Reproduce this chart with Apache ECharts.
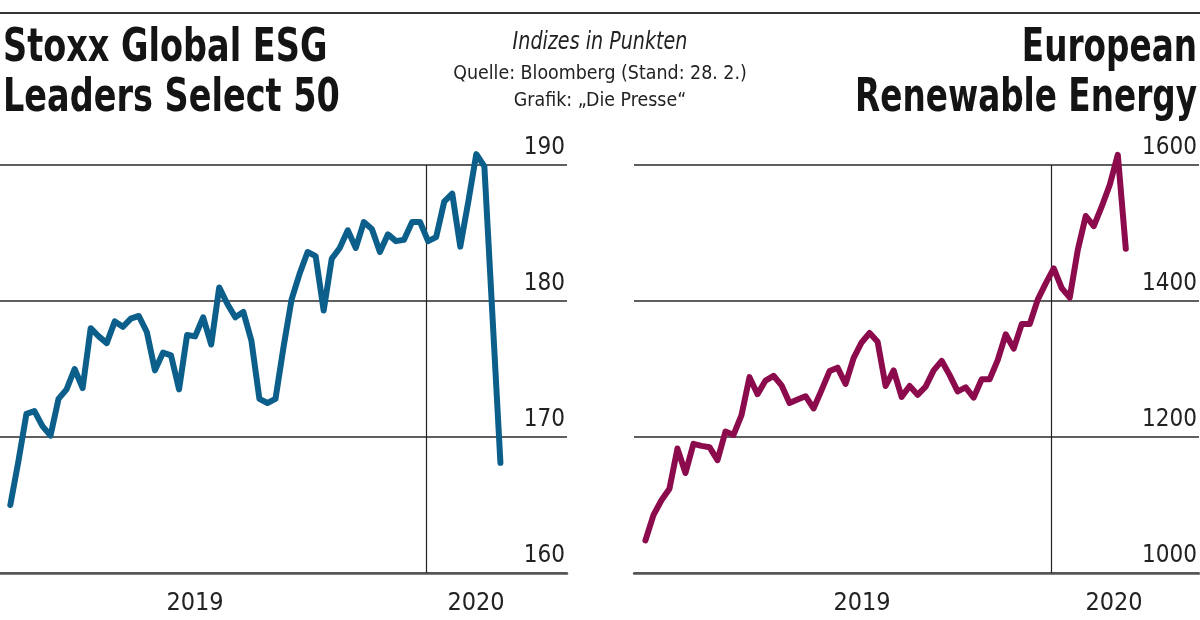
<!DOCTYPE html>
<html><head><meta charset="utf-8">
<script src="https://cdn.jsdelivr.net/npm/echarts@6/dist/echarts.min.js"></script>
<style>html,body{margin:0;padding:0;background:#fff}#c{width:1200px;height:620px}</style>
</head><body><div id="c"></div>
<script>
// Stoxx Global ESG Leaders Select 50 (weekly, index points)
const esgValues = [165.0,168.2,171.7,171.9,170.8,170.1,172.8,173.5,175.0,173.6,
  178.0,177.4,176.9,178.5,178.1,178.7,178.9,177.7,174.9,176.2,
  176.0,173.5,177.5,177.4,178.8,176.8,181.0,179.8,178.8,179.2,
  177.1,172.8,172.5,172.8,176.6,180.1,182.0,183.6,183.3,179.3,
  183.1,183.9,185.2,183.9,185.8,185.3,183.6,184.9,184.4,184.5,
  185.8,185.8,184.4,184.7,187.3,187.9,184.0,187.3,190.8,189.9,
  179.0,168.1];
// European Renewable Energy (weekly, index points)
const renewValues = [1048,1085,1107,1124,1183,1147,1190,1187,1185,1166,
  1208,1203,1232,1288,1263,1283,1290,1276,1250,1255,
  1260,1242,1269,1297,1302,1278,1316,1339,1353,1340,
  1275,1298,1259,1275,1262,1274,1298,1312,1291,1267,
  1273,1258,1285,1285,1313,1351,1330,1366,1366,1402,
  1426,1448,1419,1405,1475,1525,1510,1539,1571,1615,
  1477];
const esgStart = '2019-01-04';
const renewStart = '2019-01-11';
const esgTicks = [160, 190, 10];      // min, max, step
const renewTicks = [1000, 1600, 200]; // min, max, step
const yearLabels = ['2019', '2020'];
const yearBoundary = '2020-01-01';
const titleLeft = ['Stoxx Global ESG', 'Leaders Select 50'];
const titleRight = ['European', 'Renewable Energy'];
const subTitle = 'Indizes in Punkten';
const sourceLines = ['Quelle: Bloomberg (Stand: 28. 2.)', 'Grafik: \u201EDie Presse\u201C'];

function weeklyDates(start, n) {
  const out = [];
  const p = start.split('-').map(Number);
  for (let i = 0; i < n; i++) {
    const d = new Date(p[0], p[1] - 1, p[2] + i * 7);
    out.push(d.getTime());
  }
  return out;
}
function localTime(s) { const p = s.split('-').map(Number); return new Date(p[0], p[1]-1, p[2]).getTime(); }

const esgDates = weeklyDates(esgStart, esgValues.length);
const renewDates = weeklyDates(renewStart, renewValues.length);

const NARROW = '"Liberation Sans Narrow", "DejaVu Sans Condensed", "Roboto", sans-serif';
const INK = '#141414';

function yAxis(idx, t) {
  return {
    type: 'value', gridIndex: idx, position: 'right',
    min: t[0], max: t[1], interval: t[2],
    axisLine: { show: false }, axisTick: { show: false },
    splitLine: { lineStyle: { color: '#2a2a2a', width: 1.5 } },
    axisLabel: { inside: true, margin: 2, verticalAlign: 'bottom', padding: [0, 0, 5, 0],
      fontFamily: NARROW, fontSize: 24, color: '#222', showMinLabel: true, showMaxLabel: true,
      formatter: function (v) { return String(v); } }
  };
}
function xAxis(idx, min, max) {
  return {
    type: 'time', gridIndex: idx, min: localTime(min), max: localTime(max),
    axisLine: { show: true, lineStyle: { color: '#555', width: 2.5 } },
    axisTick: { show: false }, axisLabel: { show: false }, splitLine: { show: false }
  };
}
function lineSeries(idx, dates, vals, color) {
  return {
    type: 'line', xAxisIndex: idx, yAxisIndex: idx, clip: false,
    data: dates.map((d, i) => [d, vals[i]]),
    symbol: 'none', showSymbol: false, z: 3,
    lineStyle: { color: color, width: 6, cap: 'round', join: 'round' },
    markLine: { silent: true, symbol: 'none', z: 1, label: { show: false },
      lineStyle: { color: '#222', width: 1.2, type: 'solid' },
      data: [{ xAxis: localTime(yearBoundary) }] }
  };
}
function txt(x, y, text, font, align, fill, sx) {
  return { type: 'text', x: x, y: y, silent: true, scaleX: sx || 1,
    style: { text: text, font: font, fill: fill || INK, align: align || 'left', verticalAlign: 'middle' } };
}

const chart = echarts.init(document.getElementById('c'), null, { renderer: 'canvas' });
const TF = 'bold 46px ' + NARROW;
chart.setOption({
  animation: false,
  backgroundColor: '#fff',
  grid: [
    { left: 0, width: 567, top: 165, height: 408 },
    { left: 634, width: 566, top: 165, height: 408 }
  ],
  xAxis: [ xAxis(0, '2018-12-26', '2020-05-03'), xAxis(1, '2019-01-01', '2020-05-09') ],
  yAxis: [ yAxis(0, esgTicks), yAxis(1, renewTicks) ],
  series: [
    lineSeries(0, esgDates, esgValues, '#0c5f8a'),
    lineSeries(1, renewDates, renewValues, '#8c0b4d')
  ],
  graphic: [
    { type: 'line', silent: true, shape: { x1: 0, y1: 13, x2: 1200, y2: 13 }, style: { stroke: '#333', lineWidth: 2 } },
    txt(3, 49, titleLeft[0], TF, 'left', INK, 0.81),
    txt(3, 99, titleLeft[1], TF, 'left', INK, 0.81),
    txt(1197, 49, titleRight[0], TF, 'right', INK, 0.79),
    txt(1197, 99, titleRight[1], TF, 'right', INK, 0.79),
    txt(600, 42, subTitle, 'italic 25px ' + NARROW, 'center', '#222', 0.85),
    txt(600, 74, sourceLines[0], '20px ' + NARROW, 'center', '#222', 0.97),
    txt(600, 101, sourceLines[1], '20px ' + NARROW, 'center', '#222', 0.97),
    txt(195, 603, yearLabels[0], '25px ' + NARROW, 'center', '#222'),
    txt(476, 603, yearLabels[1], '25px ' + NARROW, 'center', '#222'),
    txt(862, 603, yearLabels[0], '25px ' + NARROW, 'center', '#222'),
    txt(1114, 603, yearLabels[1], '25px ' + NARROW, 'center', '#222')
  ]
});
</script></body></html>
